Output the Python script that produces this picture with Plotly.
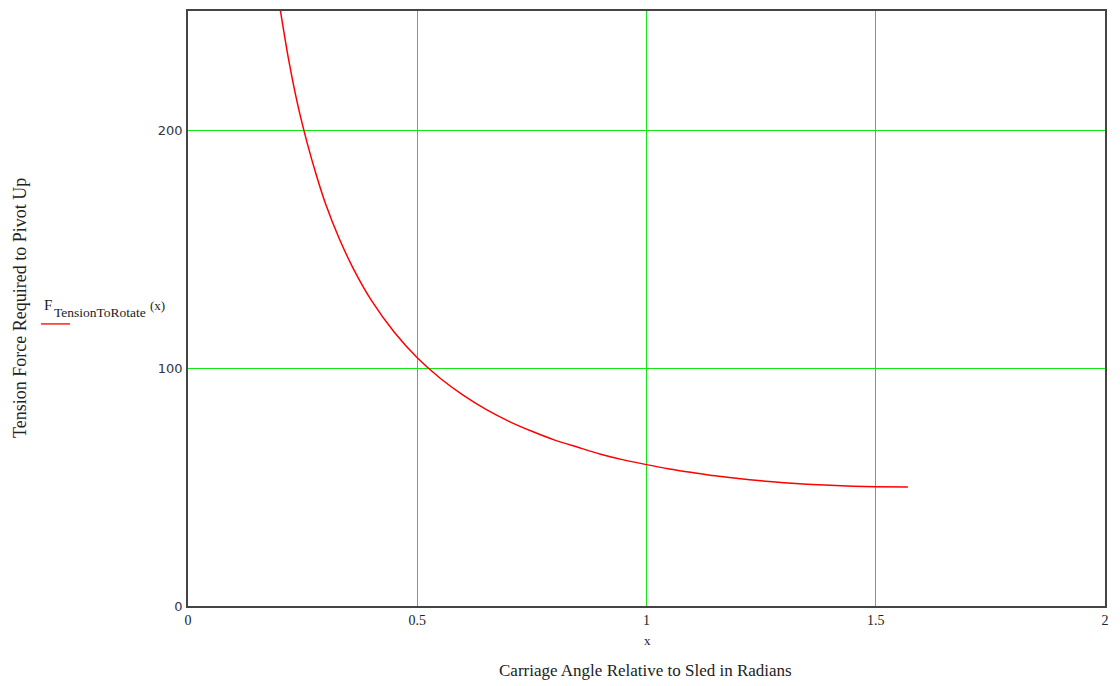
import plotly.graph_objects as go

# Data
angle_rad = [0.20, 0.22, 0.24, 0.26, 0.28, 0.30, 0.33, 0.36, 0.40, 0.45, 0.50, 0.55,
             0.60, 0.65, 0.70, 0.75, 0.80, 0.85, 0.90, 0.95, 1.00, 1.05, 1.10, 1.15,
             1.20, 1.25, 1.30, 1.35, 1.40, 1.45, 1.50, 1.57]
tension = [252, 229, 210, 194.5, 181, 169, 154.3, 142, 128.4, 115, 104.3, 95.7,
           88.6, 82.6, 77.6, 73.4, 69.7, 66.7, 63.8, 61.4, 59.4, 57.6, 56.1, 54.7,
           53.6, 52.6, 51.8, 51.2, 50.7, 50.3, 50.1, 50.0]
x_ticks = [0, 0.5, 1, 1.5, 2]
x_tick_labels = ["0", "0.5", "1", "1.5", "2"]
y_ticks = [0, 100, 200]
y_tick_labels = ["0", "100", "200"]

fig = go.Figure()
fig.add_trace(go.Scatter(
    x=angle_rad, y=tension, mode="lines",
    line=dict(color="#ff0000", width=1.5, shape="spline", smoothing=0.8),
    showlegend=False, hoverinfo="skip"))

grid_col = "#14e614"
fig.update_layout(
    width=1120, height=686,
    margin=dict(l=180, r=23, t=1, b=88),
    paper_bgcolor="white", plot_bgcolor="white",
    xaxis=dict(range=[0, 2], tickvals=x_ticks, ticktext=x_tick_labels,
               showgrid=True, gridcolor=grid_col, gridwidth=1.2, zeroline=False,
               showline=True, linecolor="#444", linewidth=1.5, mirror=True,
               ticks="", ticklabelstandoff=0,
               tickfont=dict(family="Liberation Serif", size=14, color="#222")),
    yaxis=dict(range=[0, 250], tickvals=y_ticks, ticktext=y_tick_labels,
               showgrid=True, gridcolor=grid_col, gridwidth=1.2, zeroline=False,
               showline=True, linecolor="#444", linewidth=1.5, mirror=True,
               ticks="", ticklabelstandoff=1,
               tickfont=dict(family="DejaVu Sans", size=13, color="#334")),
    font=dict(family="Liberation Serif", color="#222"),
)

def ann(text, x, y, size, xanchor="center", angle=0):
    fig.add_annotation(text=text, xref="paper", yref="paper", x=x, y=y,
                       xanchor=xanchor, yanchor="middle", textangle=angle,
                       showarrow=False,
                       font=dict(family="Liberation Serif", size=size, color="#222"))

ann("x", 0.5016, -0.0584, 13)
ann("Carriage Angle Relative to Sled in Radians", 0.4984, -0.1085, 17)
ann("Tension Force Required to Pivot Up", -0.1832, 0.5008, 18, angle=-90)
# legend entry
ann("F", -0.1592, 0.5058, 15, xanchor="left")
ann("TensionToRotate", -0.1483, 0.4925, 13.5, xanchor="left")
ann("(x)", -0.0436, 0.5058, 13, xanchor="left")
fig.add_shape(type="line", xref="paper", yref="paper", x0=-0.1603, x1=-0.1287,
              y0=0.4741, y1=0.4741, line=dict(color="#ff2020", width=1.5))

fig.write_html("out.html")
